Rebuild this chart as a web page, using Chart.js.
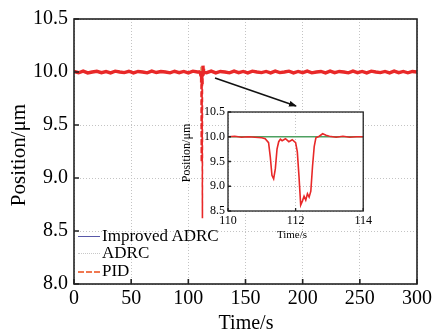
<!DOCTYPE html>
<html><head><meta charset="utf-8">
<script src="https://cdn.jsdelivr.net/npm/chart.js@4.4.0/dist/chart.umd.min.js"></script>
<style>
html,body{margin:0;padding:0;background:#fff;}
#wrap{position:relative;width:437px;height:333px;overflow:hidden;font-family:"Liberation Serif","Times New Roman",serif;color:#000;}
canvas{position:absolute;}
#main{left:0;top:0;width:437px;height:333px;}
#inset{left:180px;top:100px;width:195px;height:140px;}
.t{position:absolute;white-space:nowrap;line-height:1;}
.c{transform:translate(-50%,-50%);}
.r{transform:translate(-50%,-50%) rotate(-90deg);}
.ln{position:absolute;width:22px;height:0;}
</style></head><body>
<div id="wrap">
<canvas id="main" width="437" height="333"></canvas>
<canvas id="inset" width="195" height="140"></canvas>
<svg style="position:absolute;left:0;top:0" width="437" height="333">
  <defs><marker id="ah" markerWidth="8" markerHeight="6" refX="7" refY="3" orient="auto" markerUnits="userSpaceOnUse"><path d="M0,0 L8,3 L0,6 Z" fill="#111"/></marker></defs>
  <line x1="215" y1="78" x2="296" y2="106" stroke="#111" stroke-width="1.5" marker-end="url(#ah)"/>
</svg>
<div class="t r" style="left:18px;top:155px;font-size:21px;">Position/μm</div>
<div class="t c" style="left:246px;top:322px;font-size:20px;">Time/s</div>
<div class="t r" style="left:186px;top:153px;font-size:12px;">Position/μm</div>
<div class="t c" style="left:292px;top:234px;font-size:11px;">Time/s</div>
<div class="ln" style="left:78px;top:236px;border-top:1.5px solid #5858a8;"></div>
<div class="t" style="left:102px;top:227px;font-size:17px;">Improved ADRC</div>
<div class="ln" style="left:78px;top:253px;border-top:1px dotted #c8c8c8;"></div>
<div class="t" style="left:102px;top:244px;font-size:17px;">ADRC</div>
<div class="ln" style="left:78px;top:271px;border-top:2px dashed #f07850;"></div>
<div class="t" style="left:102px;top:262px;font-size:17px;">PID</div>
</div>
<script>
// ---- data ----
const xTicksMain = [0, 50, 100, 150, 200, 250, 300];
const yTicksMain = [8.0, 8.5, 9.0, 9.5, 10.0, 10.5];
const xTicksInset = [110, 112, 114];
const yTicksInset = [8.5, 9.0, 9.5, 10.0, 10.5];

const pidTimePre = [0,4,8,12,16,20,24,28,32,36,40,44,48,52,56,60,64,68,72,76,80,84,88,92,96,100,104,108];
const pidPosPre  = [10.005,9.993,10.008,9.991,10.0,10.007,9.994,10.004,9.992,10.008,10.0,9.994,10.007,9.992,10.005,10.0,9.992,10.008,9.995,10.005,10.0,9.992,10.007,9.994,10.005,9.992,10.008,10.0];

const pidTimeEvent = [110,110.2,110.4,110.6,110.8,111.0,111.1,111.2,111.25,111.3,111.35,111.4,111.45,111.5,111.55,111.6,111.7,111.8,111.9,112.0,112.05,112.1,112.15,112.2,112.25,112.3,112.35,112.4,112.45,112.5,112.55,112.6,112.7,112.8,112.9,113.0,113.2,113.4,113.6,113.8,114.0];
const pidPosEvent  = [10.00,10.01,9.99,10.00,9.99,9.98,9.96,9.88,9.6,9.22,9.15,9.35,9.75,9.9,9.95,9.92,9.96,9.9,9.94,9.88,9.7,9.2,8.62,8.7,8.8,8.72,8.85,8.78,8.9,9.4,9.8,9.98,10.01,10.06,10.03,10.01,9.99,10.01,9.99,10.00,10.00];

const pidTimePost = [116,120,124,128,132,136,140,144,148,152,156,160,164,168,172,176,180,184,188,192,196,200,204,208,212,216,220,224,228,232,236,240,244,248,252,256,260,264,268,272,276,280,284,288,292,296,300];
const pidPosPost  = [9.994,10.008,9.992,10.005,10.0,9.992,10.008,9.994,10.005,9.992,10.008,10.0,9.994,10.005,9.992,10.008,9.994,10.0,10.008,9.992,10.005,9.994,10.008,9.992,10.0,10.005,9.992,10.008,9.994,10.005,10.0,9.992,10.008,9.994,10.005,9.992,10.008,10.0,9.994,10.005,9.992,10.008,9.994,10.005,9.992,10.005,10.0];

const adrcTime = [0,110.5,111.0,111.3,111.6,112.0,300];
const adrcPos  = [10.0,10.0,10.05,9.97,10.03,10.0,10.0];
const impTime = [0,300];
const impPos  = [10.0,10.0];
const impInsetTime = [110,114];
const impInsetPos  = [10.0,10.0];

// ---- helpers ----
const FONT = "'Liberation Serif','Times New Roman',serif";
const zip = (xs, ys) => xs.map((x, i) => ({x, y: ys[i]}));
const pidAll = zip(pidTimePre.concat(pidTimeEvent, pidTimePost), pidPosPre.concat(pidPosEvent, pidPosPost));
const steep = c => Math.abs(c.p1.parsed.y - c.p0.parsed.y) > 0.05;

const framePlugin = {
  id: 'frame',
  beforeDraw(chart, args, opts) {
    if (!opts.fill) return;
    const {ctx, chartArea: a} = chart;
    ctx.save(); ctx.fillStyle = '#fff';
    ctx.fillRect(a.left, a.top, a.right - a.left, a.bottom - a.top);
    ctx.restore();
  },
  afterDraw(chart, args, opts) {
    const {ctx, chartArea: a, scales} = chart;
    ctx.save();
    ctx.strokeStyle = '#222'; ctx.lineWidth = opts.lw;
    ctx.strokeRect(a.left, a.top, a.right - a.left, a.bottom - a.top);
    const L = opts.tick;
    ctx.beginPath();
    opts.xt.forEach(v => { const px = scales.x.getPixelForValue(v); ctx.moveTo(px, a.bottom); ctx.lineTo(px, a.bottom - L); });
    opts.yt.forEach(v => { const py = scales.y.getPixelForValue(v); ctx.moveTo(a.left, py); ctx.lineTo(a.left + L, py); });
    ctx.stroke();
    ctx.restore();
  }
};

function axis(min, max, step, size, pad, fit, isY, tickVals) {
  return {
    type: 'linear', min, max,
    afterBuildTicks: s => { s.ticks = tickVals.map(v => ({value: v})); },
    ticks: {
      stepSize: step, color: '#000', padding: pad, maxRotation: 0, autoSkip: false,
      font: {family: FONT, size},
      callback: v => isY ? Number(v).toFixed(1) : String(v)
    },
    grid: {color: '#c4c4c4', lineWidth: 1, drawTicks: false},
    border: {display: false, dash: [1, 2]},
    afterFit: s => { if (isY) s.width = fit; else s.height = fit; }
  };
}

new Chart(document.getElementById('main'), {
  type: 'line',
  data: {datasets: [
    {label: 'Improved ADRC', order: 3, data: zip(impTime, impPos), borderColor: '#5858a8', borderWidth: 1.5, pointRadius: 0},
    {label: 'ADRC', order: 2, data: zip(adrcTime, adrcPos), borderColor: '#d0b070', borderWidth: 1.5, pointRadius: 0},
    {label: 'PID', order: 1, data: pidAll, borderColor: '#e82828', borderWidth: 3.4, pointRadius: 0,
      segment: {
        borderWidth: c => steep(c) ? 1.6 : undefined,
        borderDash: c => steep(c) ? [5, 3] : undefined
      }}
  ]},
  options: {
    responsive: false, animation: false,
    layout: {padding: {top: 19, right: 20, left: 0, bottom: 0}},
    scales: {
      x: axis(0, 300, 50, 20, 3, 49, false, xTicksMain),
      y: axis(8, 10.5, 0.5, 20, 6, 74, true, yTicksMain)
    },
    plugins: {legend: {display: false}, tooltip: {enabled: false},
      frame: {lw: 1.6, tick: 5, xt: xTicksMain, yt: yTicksMain}}
  },
  plugins: [framePlugin]
});

new Chart(document.getElementById('inset'), {
  type: 'line',
  data: {datasets: [
    {label: 'Improved ADRC', order: 2, data: zip(impInsetTime, impInsetPos), borderColor: '#4ea060', borderWidth: 1.5, pointRadius: 0},
    {label: 'PID', order: 1, data: zip(pidTimeEvent, pidPosEvent), borderColor: '#e82828', borderWidth: 1.6, pointRadius: 0}
  ]},
  options: {
    responsive: false, animation: false,
    layout: {padding: {top: 12, right: 11, left: 0, bottom: 0}},
    scales: {
      x: axis(110, 114, 2, 12, 3, 29, false, xTicksInset),
      y: axis(8.5, 10.5, 0.5, 12, 3, 48, true, yTicksInset)
    },
    plugins: {legend: {display: false}, tooltip: {enabled: false},
      frame: {lw: 1.3, tick: 3, xt: xTicksInset, yt: yTicksInset, fill: true}}
  },
  plugins: [framePlugin]
});
</script>
</body></html>
